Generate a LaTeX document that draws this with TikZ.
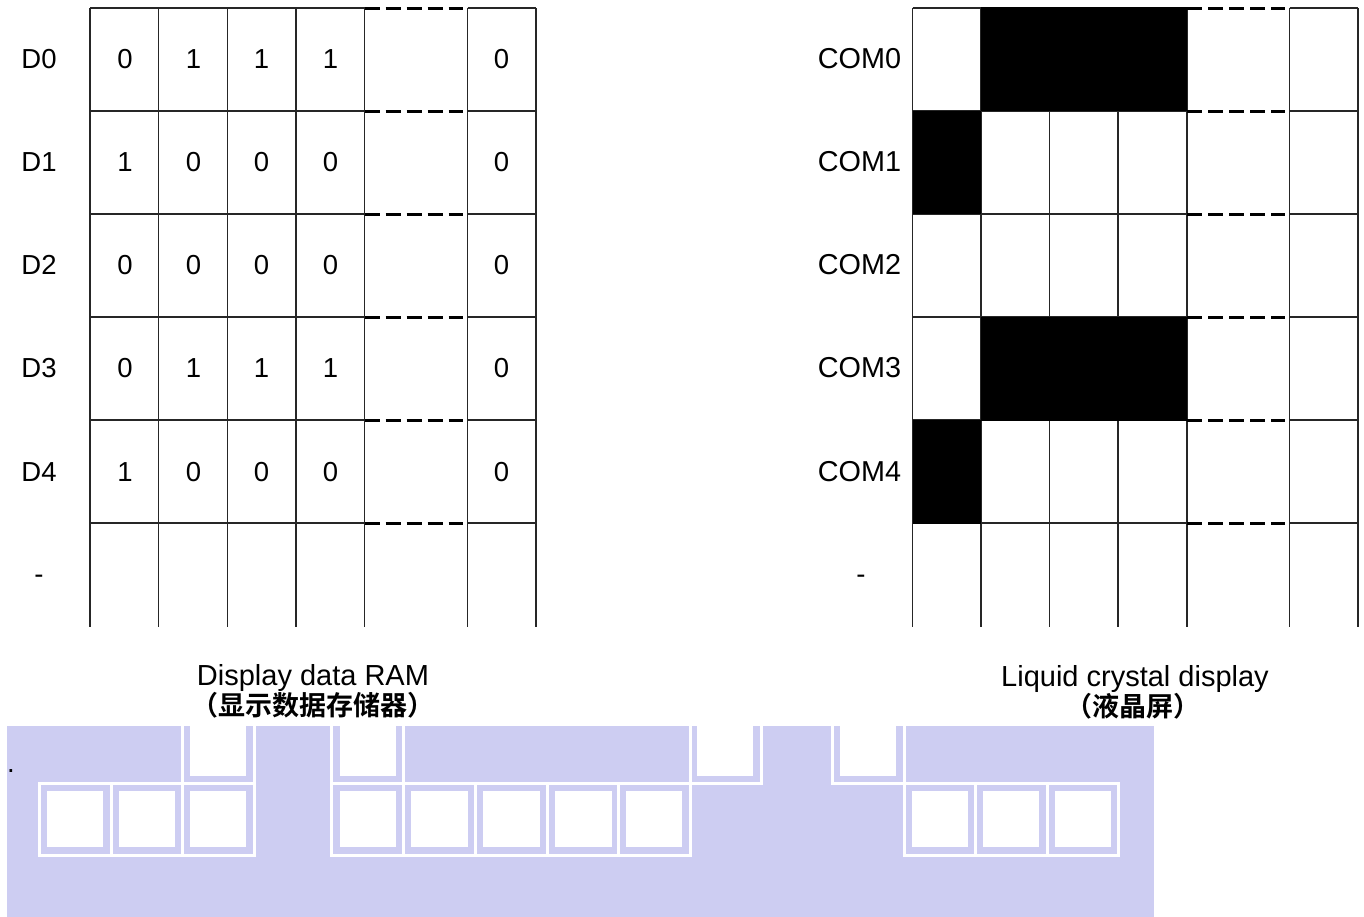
\documentclass[tikz,border=0pt]{standalone}
\usepackage{fontspec}
\setmainfont{Liberation Sans}
\newfontfamily\cjkfont{Noto Sans CJK SC}[BoldFont={* Bold}]
\definecolor{panelblue}{HTML}{CDCDF2}
\tikzset{
  gridline/.style={line width=1.4pt,black!85},
  dashline/.style={line width=3pt,black,dash pattern=on 15pt off 6pt},
  label/.style={anchor=base,inner sep=0pt,font=\fontsize{27.5}{27.5}\selectfont},
  comlabel/.style={anchor=base,inner sep=0pt,font=\fontsize{28.8}{28.8}\selectfont},
  capt/.style={anchor=base,inner sep=0pt,font=\fontsize{29}{29}\selectfont},
  cjkcapt/.style={anchor=base,inner sep=0pt,font=\cjkfont\bfseries\fontsize{27}{27}\selectfont},
  whiteline/.style={line width=3pt,white}
}
\begin{document}
\begin{tikzpicture}[x=1pt,y=-1pt]
\useasboundingbox (0,0) rectangle (1364,917);
% both grids
\foreach \a/\b/\c/\d/\e/\f/\g/\h in {90/158.5/227.5/296/364.5/467.5/536/463, 912.5/981/1049.5/1118/1187/1289.5/1358/1285}{
  \foreach \xx in {\a,\b,\c,\d,\e,\f,\g}
    \draw[gridline] (\xx,8) -- (\xx,627);
  \foreach \yy in {8,111,214,317,420,523}{
    \draw[gridline] (\a,\yy) -- (\e,\yy);
    \draw[gridline] (\f,\yy) -- (\g,\yy);
    \draw[dashline] (\e,\yy+0.5) -- (\h,\yy+0.5);
  }
}
% black cells of the display
\fill[black] (981,7.5) rectangle (1187,111.5);
\fill[black] (912.5,111) rectangle (981,214.5);
\fill[black] (981,316.5) rectangle (1187,420.5);
\fill[black] (912.5,420) rectangle (981,523.5);
% row labels
\foreach \n/\t/\yy in {a/D0/68.5,b/D1/171.5,c/D2/274,d/D3/377,e/D4/481}
  \node[label] (row\n) at (39,\yy) {\t};
\node[label] (rowf) at (39,583) {-};
\foreach \n/\t/\yy in {a/COM0/68.5,b/COM1/171.5,c/COM2/274,d/COM3/377,e/COM4/481}
  \node[comlabel] (com\n) at (859.5,\yy) {\t};
\node[label] (comf) at (861,583) {-};
% data cells
\foreach \r/\yy/\p/\q/\s/\u/\v in {a/68.5/0/1/1/1/0,b/171.5/1/0/0/0/0,c/274/0/0/0/0/0,d/377/0/1/1/1/0,e/481/1/0/0/0/0}{
  \node[label] (c\r1) at (125,\yy) {\p};
  \node[label] (c\r2) at (193.5,\yy) {\q};
  \node[label] (c\r3) at (261.5,\yy) {\s};
  \node[label] (c\r4) at (330.5,\yy) {\u};
  \node[label] (c\r5) at (501.5,\yy) {\v};
}
% captions
\node[capt] (ramen) at (313,685.5) {Display data RAM};
\node[cjkcapt] (ramzh) at (313,715) {（显示数据存储器）};
\node[capt] (lcden) at (1135,686) {Liquid crystal display};
\node[cjkcapt] (lcdzh) at (1133,716) {（液晶屏）};
% lower panel
\fill[panelblue] (7,726) rectangle (1154,917);
\foreach \xa/\xb in {47/103,119/175,190/246,340/396,411/468,483/540,555/612,626/682,912/968,983/1039,1055/1111}
  \fill[white] (\xa,791) rectangle (\xb,847);
\foreach \xa/\xb in {190/246,340/396,697/753,840/896}
  \fill[white] (\xa,726) rectangle (\xb,776);
\draw[whiteline] (39.5,783) rectangle (254.5,855.5);
\draw[whiteline] (331.5,783) rectangle (690,855.5);
\draw[whiteline] (904,783) rectangle (1118.5,855.5);
\foreach \xx in {111.5,182.5,403.5,475,547,618.5,975.5,1047}
  \draw[whiteline] (\xx,783) -- (\xx,855.5);
\foreach \xa/\xb in {182.5/254.5,331.5/403.5,690/761,832.5/904}
  \draw[whiteline] (\xa,726) -- (\xa,783) -- (\xb,783) -- (\xb,726);
\node[label] (dot) at (11,772) {.};
\end{tikzpicture}
\end{document}
